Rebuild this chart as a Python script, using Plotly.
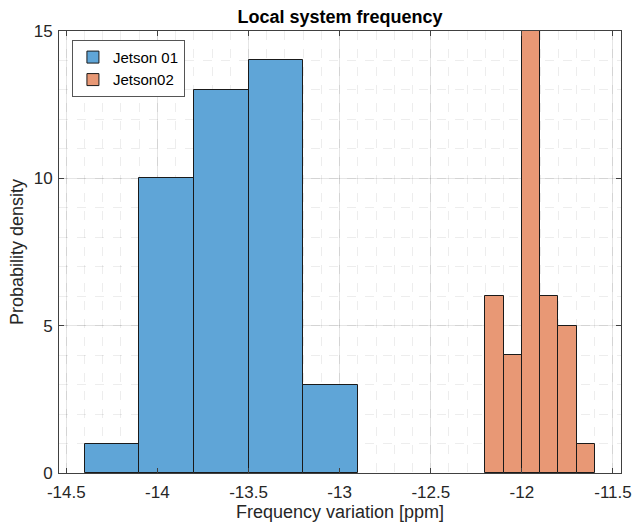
import plotly.graph_objects as go

# Data
j1_edges = [-14.4, -14.1, -13.8, -13.5, -13.2, -12.9]
j1_counts = [1, 10, 13, 14, 3]
j2_edges = [-12.2, -12.1, -12.0, -11.9, -11.8, -11.7, -11.6]
j2_counts = [6, 4, 15, 6, 5, 1]
x_ticks = [-14.5, -14, -13.5, -13, -12.5, -12, -11.5]
x_tick_labels = ["-14.5", "-14", "-13.5", "-13", "-12.5", "-12", "-11.5"]
y_ticks = [0, 5, 10, 15]
series_names = ["Jetson 01", "Jetson02"]

FONT = "Liberation Sans, Arial"

fig = go.Figure()

def add_hist(edges, counts, name, color):
    lefts = edges[:-1]
    widths = [edges[i + 1] - edges[i] for i in range(len(counts))]
    fig.add_trace(go.Bar(
        x=lefts, y=counts, width=widths, offset=0, name=name,
        marker=dict(color=color, line=dict(color="#1a1a1a", width=1)),
    ))

add_hist(j1_edges, j1_counts, series_names[0], "rgb(95,165,215)")
add_hist(j2_edges, j2_counts, series_names[1], "rgb(232,152,117)")

axis_common = dict(
    automargin=False,
    showline=True, linecolor="#404040", linewidth=1, mirror="ticks",
    ticks="inside", ticklen=5, tickcolor="#404040",
    showgrid=True, gridcolor="rgba(0,0,0,0.10)", gridwidth=1,
    zeroline=False,
    tickfont=dict(family=FONT, size=17, color="#262626"),
)

fig.update_layout(
    width=635, height=528,
    margin=dict(l=59, r=14, t=31, b=55),
    paper_bgcolor="white", plot_bgcolor="white",
    barmode="overlay", bargap=0,
    showlegend=True,
    title=dict(text="<b>Local system frequency</b>", x=(59 + 621) / 2 / 635, xanchor="center",
               y=1 - 17 / 528, yanchor="middle",
               font=dict(family=FONT, size=18, color="black")),
    legend=dict(x=0.023, y=0.98, xanchor="left", yanchor="top",
                bgcolor="white", bordercolor="#555555", borderwidth=1,
                font=dict(family=FONT, size=15, color="black"),
                tracegroupgap=0, itemwidth=30),
    xaxis=dict(
        **axis_common,
        range=[-14.54, -11.456],
        tickvals=x_ticks, ticktext=x_tick_labels,
        ticklabelstandoff=4,
        minor=dict(dtick=0.1, showgrid=True, gridcolor="rgba(0,0,0,0.07)", griddash="dash", ticks=""),
        title=dict(text="Frequency variation [ppm]", standoff=3,
                   font=dict(family=FONT, size=18, color="#262626")),
    ),
    yaxis=dict(
        **axis_common,
        range=[0, 15],
        tickvals=y_ticks,
        ticklabelstandoff=2,
        minor=dict(dtick=1, showgrid=True, gridcolor="rgba(0,0,0,0.07)", griddash="dash", ticks=""),
        title=dict(text="Probability density", standoff=5,
                   font=dict(family=FONT, size=18, color="#262626")),
    ),
)

fig.write_html("out.html")
